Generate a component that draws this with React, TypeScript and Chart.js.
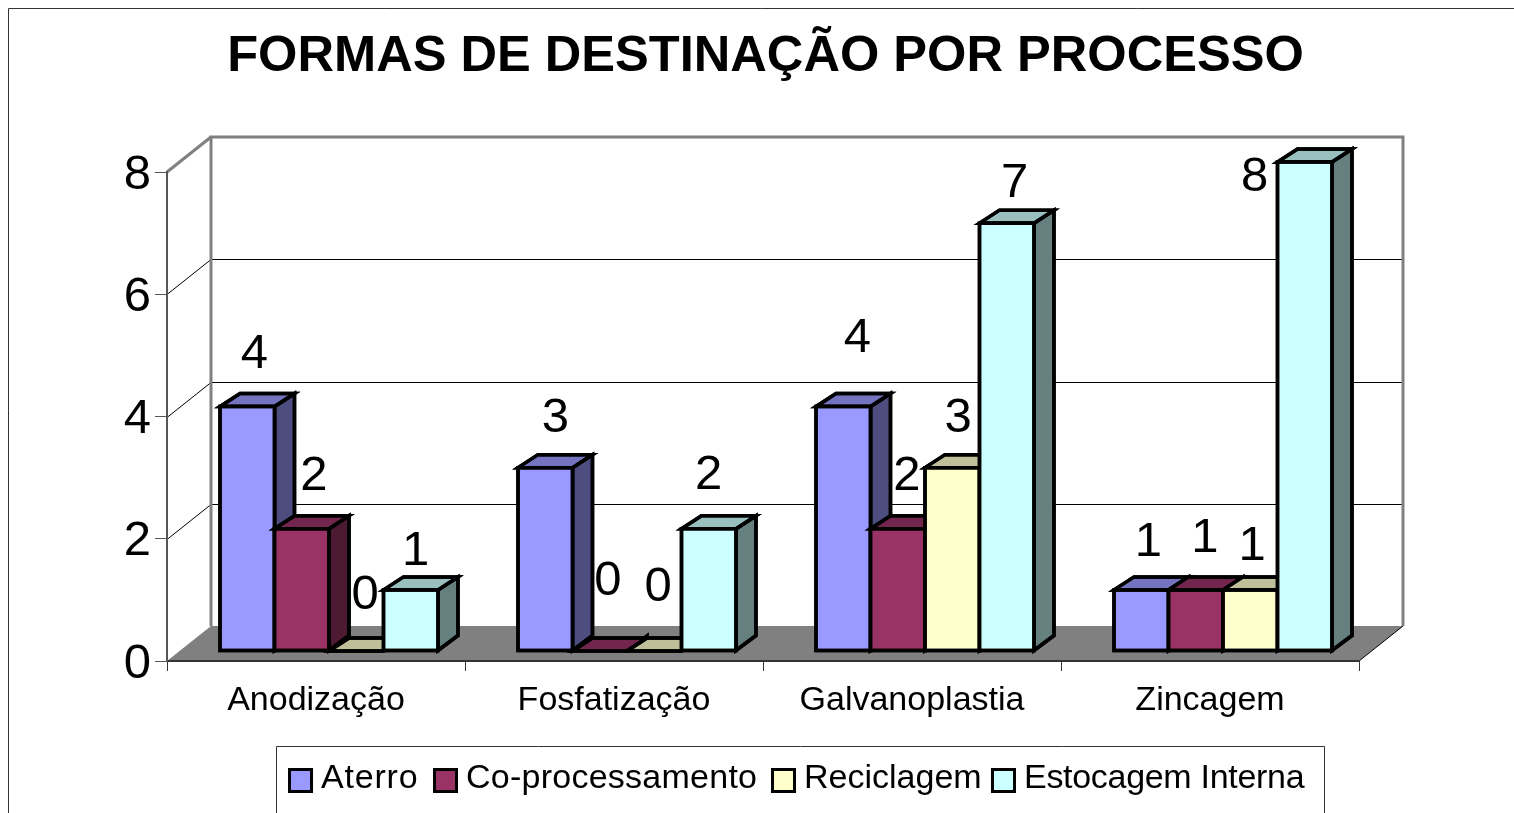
import React, { useEffect, useRef } from "react";
import { Chart, registerables } from "chart.js";

Chart.register(...registerables);

const chartTitle = "FORMAS DE DESTINAÇÃO POR PROCESSO";
const categories = ["Anodização", "Fosfatização", "Galvanoplastia", "Zincagem"];
const seriesNames = ["Aterro", "Co-processamento", "Reciclagem", "Estocagem Interna"];
const aterro = [4, 3, 4, 1];
const coProcessamento = [2, 0, 2, 1];
const reciclagem = [0, 0, 3, 1];
const estocagemInterna = [1, 2, 7, 8];
const seriesValues = [aterro, coProcessamento, reciclagem, estocagemInterna];

const frontColors = ["#9999FF", "#993366", "#FFFFCC", "#CCFFFF"];
const topColors = ["#7373BF", "#73264D", "#BFBF99", "#99BFBF"];
const sideColors = ["#4D4D80", "#4D1A33", "#808066", "#668080"];

// Hand-placed value labels of the original, relative to each bar's top centre
const labelNudges: number[][][] = [
  [[7, -52], [10, -49], [14, -68], [7, -47]],
  [[12, -52], [8, -70], [9, -52], [9, -51]],
  [[9, -56], [4, -64], [6, -49], [2, -43]],
  [[5, -38], [0, -53], [8, -40], [-50, 15]],
];
// Legend entry layout: swatch left edge and text tracking
const legendLefts = [288, 433, 771, 991];
const legendTracking = [0.8, 0.25, 0, -0.3];

const FONT = '"Liberation Sans", Arial, sans-serif';
const WALL_DX = 44;
const WALL_DY = -35;
const BAR_DX = 13;
const BAR_DY = -10;
const DEPTH_DX = 20;
const DEPTH_DY_TOP = -13;
const DEPTH_DY_BASE = -15;

function poly(ctx: CanvasRenderingContext2D, pts: number[][], fill: string | null, stroke: string | null, lw = 1) {
  ctx.beginPath();
  pts.forEach((p, i) => (i ? ctx.lineTo(p[0], p[1]) : ctx.moveTo(p[0], p[1])));
  if (fill) {
    ctx.closePath();
    ctx.fillStyle = fill;
    ctx.fill();
  }
  if (stroke) {
    ctx.lineWidth = lw;
    ctx.strokeStyle = stroke;
    ctx.stroke();
  }
}

const scenePlugin = {
  id: "scene3d",
  afterLayout(chart: any) {
    chart.titleBlock.left += 2.5;
    chart.titleBlock.right += 2.5;
  },
  beforeDraw(chart: any) {
    const { ctx, chartArea: a, scales } = chart;
    ctx.save();
    ctx.fillStyle = "#FFFFFF";
    ctx.fillRect(0, 0, chart.width, chart.height);

    // outer frame (cut by the page at right and bottom)
    poly(ctx, [[8.5, 813], [8.5, 8.5], [1514, 8.5]], null, "#333333", 1);

    // floor
    poly(
      ctx,
      [[a.left, a.bottom], [a.left + WALL_DX, a.bottom + WALL_DY], [a.right + WALL_DX, a.bottom + WALL_DY], [a.right, a.bottom]],
      "#808080",
      null
    );
    poly(ctx, [[a.right, a.bottom], [a.right + WALL_DX, a.bottom + WALL_DY]], null, "#000000", 1);

    // gridlines on the back and side walls
    for (const t of scales.y.ticks) {
      if (t.value === scales.y.min || t.value === scales.y.max) continue;
      const y = Math.round(scales.y.getPixelForValue(t.value)) + 0.5;
      poly(ctx, [[a.left, y], [a.left + WALL_DX, y + WALL_DY], [a.right + WALL_DX, y + WALL_DY]], null, "#000000", 1);
    }

    // wall edges
    poly(
      ctx,
      [
        [a.left + WALL_DX, a.bottom + WALL_DY],
        [a.left + WALL_DX, a.top + WALL_DY],
        [a.right + WALL_DX, a.top + WALL_DY],
        [a.right + WALL_DX, a.bottom + WALL_DY],
      ],
      null,
      "#808080",
      3
    );
    poly(ctx, [[a.left, a.top], [a.left + WALL_DX, a.top + WALL_DY]], null, "#808080", 3);
    ctx.restore();
  },
  beforeDatasetsDraw(chart: any) {
    const { ctx } = chart;
    ctx.save();
    ctx.lineJoin = "miter";
    ctx.miterLimit = 10;
    const metas = chart.getSortedVisibleDatasetMetas();
    const LW = 3.5;
    metas.forEach((meta: any, s: number) => {
      meta.data.forEach((el: any) => {
        const l = el.x - el.width / 2 + BAR_DX;
        const r = el.x + el.width / 2 + BAR_DX;
        const t = el.y + BAR_DY;
        const b = el.base + BAR_DY;
        poly(ctx, [[r, t], [r + DEPTH_DX, t + DEPTH_DY_TOP], [r + DEPTH_DX, b + DEPTH_DY_BASE], [r, b]], sideColors[s], "#000000", LW);
        ctx.closePath();
        ctx.stroke();
        poly(ctx, [[l, t], [l + DEPTH_DX, t + DEPTH_DY_TOP], [r + DEPTH_DX, t + DEPTH_DY_TOP], [r, t]], topColors[s], "#000000", LW);
        ctx.closePath();
        ctx.stroke();
        if (b > t) {
          poly(ctx, [[l, t], [r, t], [r, b], [l, b]], frontColors[s], "#000000", LW);
          ctx.closePath();
          ctx.stroke();
        }
      });
    });

    // value labels
    ctx.fillStyle = "#000000";
    ctx.font = `49px ${FONT}`;
    ctx.textAlign = "center";
    ctx.textBaseline = "middle";
    metas.forEach((meta: any, s: number) => {
      meta.data.forEach((el: any, c: number) => {
        const [nx, ny] = labelNudges[s][c];
        ctx.fillText(String(seriesValues[s][c]), el.x + BAR_DX + nx, el.y + BAR_DY + ny);
      });
    });

    // legend
    poly(ctx, [[276.5, 813], [276.5, 746.5], [1324.5, 746.5], [1324.5, 813]], null, "#333333", 1);
    ctx.font = `34px ${FONT}`;
    ctx.textAlign = "left";
    ctx.textBaseline = "alphabetic";
    seriesNames.forEach((name, s) => {
      const x = legendLefts[s];
      ctx.fillStyle = frontColors[s];
      ctx.fillRect(x + 1.5, 769.5, 22, 22);
      ctx.strokeStyle = "#000000";
      ctx.lineWidth = 3;
      ctx.strokeRect(x + 1.5, 769.5, 22, 22);
      ctx.fillStyle = "#000000";
      (ctx as any).letterSpacing = `${legendTracking[s]}px`;
      ctx.fillText(name, x + 33, 787.5);
    });
    (ctx as any).letterSpacing = "0px";
    ctx.restore();
    return false;
  },
};

export default function App() {
  const ref = useRef<HTMLCanvasElement | null>(null);
  useEffect(() => {
    document.body.style.margin = "0";
    const chart = new Chart(ref.current as HTMLCanvasElement, {
      type: "bar",
      data: {
        labels: categories,
        datasets: seriesNames.map((name, s) => ({
          label: name,
          data: seriesValues[s],
          backgroundColor: frontColors[s],
          borderColor: "#000000",
          borderWidth: 3,
          categoryPercentage: 0.7315,
          barPercentage: 1,
        })),
      },
      options: {
        responsive: false,
        animation: false,
        layout: { autoPadding: false, padding: { left: 0, right: 155, top: 0, bottom: 0 } },
        plugins: {
          legend: { display: false },
          tooltip: { enabled: false },
          title: {
            display: true,
            text: chartTitle,
            fullSize: false,
            color: "#000000",
            font: { family: FONT, size: 50.6, weight: "bold", lineHeight: 1 },
            padding: { top: 32, bottom: 89.4 },
          },
        },
        scales: {
          x: {
            afterFit(scale: any) {
              scale.height = 152;
            },
            border: { color: "#333333", width: 2 },
            grid: { drawOnChartArea: false, drawTicks: true, tickLength: 10, color: "#333333", lineWidth: 1 },
            ticks: {
              color: "#000000",
              font: { family: FONT, size: 34 },
              padding: 9,
              autoSkip: false,
              maxRotation: 0,
            },
          },
          y: {
            min: 0,
            max: 8,
            afterFit(scale: any) {
              scale.width = 167;
            },
            border: { color: "#555555", width: 2 },
            grid: { drawOnChartArea: false, drawTicks: true, tickLength: 12, color: "#555555", lineWidth: 1 },
            ticks: {
              stepSize: 2,
              color: "#000000",
              font: { family: FONT, size: 49 },
              padding: 4,
              labelOffset: 3,
            },
          },
        },
      },
      plugins: [scenePlugin],
    } as any);
    return () => chart.destroy();
  }, []);
  return (
    <div style={{ position: "absolute", left: 0, top: 0, width: 1514, height: 813, overflow: "hidden" }}>
      <canvas ref={ref} width={1514} height={813} style={{ display: "block" }} />
    </div>
  );
}
